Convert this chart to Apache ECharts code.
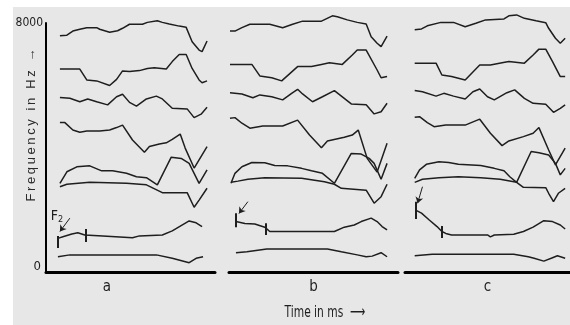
<!DOCTYPE html>
<html>
<head>
<meta charset="utf-8">
<script src="https://cdn.jsdelivr.net/npm/echarts@6/dist/echarts.min.js"></script>
<style>
html, body {margin: 0; padding: 0; background: #fff;}
#chart {width: 570px; height: 325px;}
</style>
</head>
<body>
<div id="chart"></div>
<script>
// formant tracks, [time (ms), frequency (Hz)], F1 = lowest
const aF1 = [[12,490],[24,550],[111,550],[127,440],[144,300],[151,440],[158,490]];
const aF2 = [[12,1080],[17,1130],[26,1220],[32,1260],[39,1190],[57,1160],[87,1100],[94,1160],[117,1190],[127,1320],[144,1640],[151,1580],[157,1460]];
const aF3 = [[14,2740],[21,2820],[44,2880],[81,2850],[101,2800],[117,2550],[142,2550],[149,2080],[154,2310],[162,2690]];
const aF4 = [[14,2850],[21,3220],[31,3380],[44,3410],[56,3250],[67,3250],[81,3170],[91,3060],[101,3030],[112,2800],[126,3690],[136,3650],[144,3490],[154,2850],[162,3280]];
const aF5 = [[14,4800],[19,4800],[27,4560],[34,4490],[41,4530],[54,4530],[64,4560],[71,4640],[77,4720],[87,4240],[99,3850],[104,4030],[114,4110],[121,4150],[127,4260],[135,4430],[140,3980],[149,3340],[162,4030]];
const aF6 = [[14,5610],[24,5580],[34,5470],[42,5560],[51,5470],[62,5370],[71,5630],[77,5710],[84,5450],[91,5330],[101,5560],[111,5650],[117,5560],[127,5260],[142,5240],[149,4960],[156,5070],[162,5290]];
const aF7 = [[14,6520],[34,6520],[41,6170],[51,6140],[64,5990],[71,6190],[77,6460],[84,6440],[94,6470],[102,6540],[109,6560],[121,6520],[127,6760],[134,6990],[141,6990],[147,6540],[154,6170],[157,6080],[162,6140]];
const aF8 = [[14,7590],[21,7610],[27,7740],[34,7800],[41,7850],[51,7850],[54,7800],[64,7700],[72,7750],[77,7830],[84,7960],[97,7960],[102,8020],[112,8070],[117,8020],[124,7970],[134,7900],[141,7860],[147,7400],[154,7130],[157,7080],[162,7420]];

const bF1 = [[7,620],[18,650],[38,740],[99,740],[113,650],[129,550],[138,490],[144,510],[153,620],[159,490]];
const bF2 = [[7,1620],[16,1560],[26,1540],[36,1440],[41,1300],[106,1300],[116,1440],[126,1510],[133,1620],[143,1730],[149,1620],[154,1460],[159,1350]];
const bF3 = [[2,2880],[9,2920],[19,2980],[36,3030],[73,3010],[96,2900],[106,2820],[113,2690],[138,2630],[146,2210],[153,2420],[159,2820]];
const bF4 = [[2,2850],[6,3170],[13,3380],[23,3520],[36,3510],[46,3420],[59,3410],[73,3330],[83,3250],[94,3170],[106,2850],[123,3810],[133,3790],[141,3650],[146,3490],[153,2980],[159,3490]];
const bF5 = [[1,4940],[6,4960],[13,4780],[21,4620],[34,4690],[54,4690],[69,4880],[81,4400],[93,3990],[99,4210],[116,4330],[124,4400],[130,4560],[139,3650],[149,3210],[159,4140]];
const bF6 = [[1,5760],[13,5720],[24,5600],[31,5690],[43,5630],[54,5530],[63,5740],[69,5870],[74,5720],[84,5470],[94,5630],[106,5830],[123,5400],[138,5370],[146,5080],[153,5150],[159,5420]];
const bF7 = [[1,6670],[23,6670],[31,6300],[43,6240],[53,6140],[69,6600],[83,6600],[93,6670],[101,6720],[114,6670],[124,6970],[129,7130],[138,7130],[149,6490],[153,6240],[159,6280]];
const bF8 = [[1,7740],[6,7740],[13,7850],[21,7960],[41,7960],[54,7850],[64,7960],[74,8060],[93,8060],[104,8230],[109,8200],[119,8100],[129,8020],[138,7970],[143,7560],[149,7350],[153,7240],[159,7580]];

const cF1 = [[10,520],[28,570],[112,570],[113,520],[127,490],[133,440],[143,350],[152,460],[157,520],[165,440]];
const cF2 = [[11,1990],[17,1890],[25,1670],[33,1460],[38,1300],[42,1240],[48,1190],[85,1190],[88,1130],[92,1190],[112,1210],[122,1300],[132,1440],[143,1650],[152,1620],[160,1510],[165,1380]];
const cF3 = [[10,2880],[18,2980],[35,3030],[55,3060],[78,3030],[98,2980],[115,2880],[122,2720],[145,2710],[148,2530],[153,2260],[158,2530],[165,2690]];
const cF4 = [[10,3010],[15,3280],[22,3460],[35,3540],[45,3520],[55,3460],[78,3420],[92,3330],[102,3250],[108,3060],[115,2880],[130,3870],[138,3830],[148,3760],[155,3490],[160,3120],[165,3330]];
const cF5 = [[10,4970],[15,4990],[23,4800],[30,4670],[42,4720],[62,4720],[77,4910],[88,4460],[100,4060],[107,4210],[122,4350],[132,4460],[138,4640],[148,3920],[155,3440],[165,3980]];
const cF6 = [[10,5830],[18,5790],[32,5650],[40,5740],[50,5650],[62,5560],[70,5790],[77,5880],[85,5630],[92,5530],[105,5760],[113,5850],[123,5580],[132,5420],[145,5390],[153,5130],[160,5260],[165,5370]];
const cF7 = [[10,6710],[32,6710],[38,6330],[48,6280],[62,6170],[77,6650],[88,6650],[100,6720],[107,6760],[123,6710],[132,6970],[138,7160],[145,7160],[152,6760],[160,6280],[165,6280]];
const cF8 = [[10,7780],[17,7810],[23,7910],[37,8020],[50,8020],[62,7880],[73,7990],[83,8100],[102,8130],[107,8230],[115,8260],[123,8150],[135,8070],[145,8010],[148,7830],[155,7510],[160,7350],[165,7510]];

// F2 segment marks: [time, low Hz, high Hz]
const aTicks = [[12,770,1160],[40,960,1380]];
const bTicks = [[7,1440,1890],[37,1190,1570]];
const cTicks = [[11,1700,2260],[38,1090,1480]];
// arrows pointing at F2 onset: [from, to]
const aArrow = [[24,1730],[14,1300]];
const bArrow = [[19,2260],[10,1880]];
const cArrow = [[18,2740],[13,2210]];
const f2LabelAt = [11,1800];

const panelNames = ['a', 'b', 'c'];
const yTicks = [0, 8000];

const INK = '#1e1e1e';
const FONT = '"Liberation Sans Narrow", "DejaVu Sans Condensed", "Liberation Sans", Arial, sans-serif';

const tracks = [
  [aF1, aF2, aF3, aF4, aF5, aF6, aF7, aF8],
  [bF1, bF2, bF3, bF4, bF5, bF6, bF7, bF8],
  [cF1, cF2, cF3, cF4, cF5, cF6, cF7, cF8]
];
const ticks = [aTicks, bTicks, cTicks];
const arrows = [aArrow, bArrow, cArrow];

const gridLefts = [46, 229, 405];
const gridWidths = [169, 169, 170];

const chart = echarts.init(document.getElementById('chart'));

const series = [];
tracks.forEach((panel, p) => {
  panel.forEach((track, i) => {
    const s = {
      type: 'line',
      xAxisIndex: p,
      yAxisIndex: p,
      data: track,
      showSymbol: false,
      symbol: 'none',
      clip: false,
      silent: true,
      lineStyle: {color: INK, width: 1.5}
    };
    if (i === 1) {
      const lines = ticks[p].map(t => [
        {coord: [t[0], t[1]], symbol: 'none', lineStyle: {width: 2, color: INK, type: 'solid'}},
        {coord: [t[0], t[2]], symbol: 'none'}
      ]);
      lines.push([
        {coord: arrows[p][0], symbol: 'none', lineStyle: {width: 1, color: INK, type: 'solid'}},
        {coord: arrows[p][1], symbol: 'arrow', symbolSize: 6}
      ]);
      s.markLine = {
        silent: true,
        symbol: ['none', 'none'],
        label: {show: false},
        lineStyle: {color: INK, type: 'solid'},
        emphasis: {disabled: true},
        data: lines
      };
      if (p === 0) {
        s.markPoint = {
          silent: true,
          symbol: 'circle',
          symbolSize: 0,
          label: {
            show: true,
            formatter: '{f|F}{s|2}',
            rich: {
              f: {fontFamily: FONT, fontSize: 14, color: INK},
              s: {fontFamily: FONT, fontSize: 9, color: INK, padding: [8, 0, 0, 0]}
            }
          },
          data: [{coord: f2LabelAt}]
        };
      }
    }
    series.push(s);
  });
});

chart.setOption({
  backgroundColor: '#fff',
  animation: false,
  graphic: [
    {type: 'rect', left: 13, top: 7, z: -10, silent: true,
      shape: {width: 557, height: 318}, style: {fill: '#e7e7e7'}},
    {type: 'text', x: 31, y: 125, rotation: Math.PI / 2, silent: true,
      style: {
        text: 'Frequency in Hz \u2192'.split('').join('\u2009'),
        font: '13px "Liberation Sans", Arial, sans-serif',
        fill: '#2a2a2a', align: 'center', verticalAlign: 'middle'
      }},
    {type: 'text', x: 325, y: 313, silent: true, scaleX: 0.85, scaleY: 1.15,
      style: {
        text: 'Time in ms  \u27F6',
        font: '14px ' + FONT,
        fill: INK, align: 'center', verticalAlign: 'middle'
      }}
  ],
  grid: gridLefts.map((l, i) => ({left: l, width: gridWidths[i], top: 23, bottom: 53})),
  xAxis: panelNames.map((name, i) => ({
    gridIndex: i,
    type: 'value',
    min: 0,
    max: 170,
    name: name,
    nameLocation: 'middle',
    nameGap: 8,
    nameTextStyle: {
      fontFamily: FONT, fontSize: 15, color: INK,
      padding: i === 0 ? [0, 47, 0, 0] : 0
    },
    axisLine: {show: true, lineStyle: {color: '#000', width: 3}},
    axisTick: {show: false},
    axisLabel: {show: false},
    splitLine: {show: false}
  })),
  yAxis: panelNames.map((name, i) => ({
    gridIndex: i,
    type: 'value',
    min: yTicks[0],
    max: yTicks[1],
    interval: yTicks[1] - yTicks[0],
    show: i === 0,
    axisLine: {show: true, lineStyle: {color: '#000', width: 2}},
    axisTick: {show: false},
    splitLine: {show: false},
    axisLabel: {
      margin: 3,
      formatter: v => v === 0 ? '{z|0}' : '{t|' + v + '}',
      rich: {
        z: {fontFamily: FONT, fontSize: 13, color: INK, padding: [0, 2, 10, 0]},
        t: {fontFamily: FONT, fontSize: 12, color: INK}
      }
    }
  })),
  series: series
});
</script>
</body>
</html>
